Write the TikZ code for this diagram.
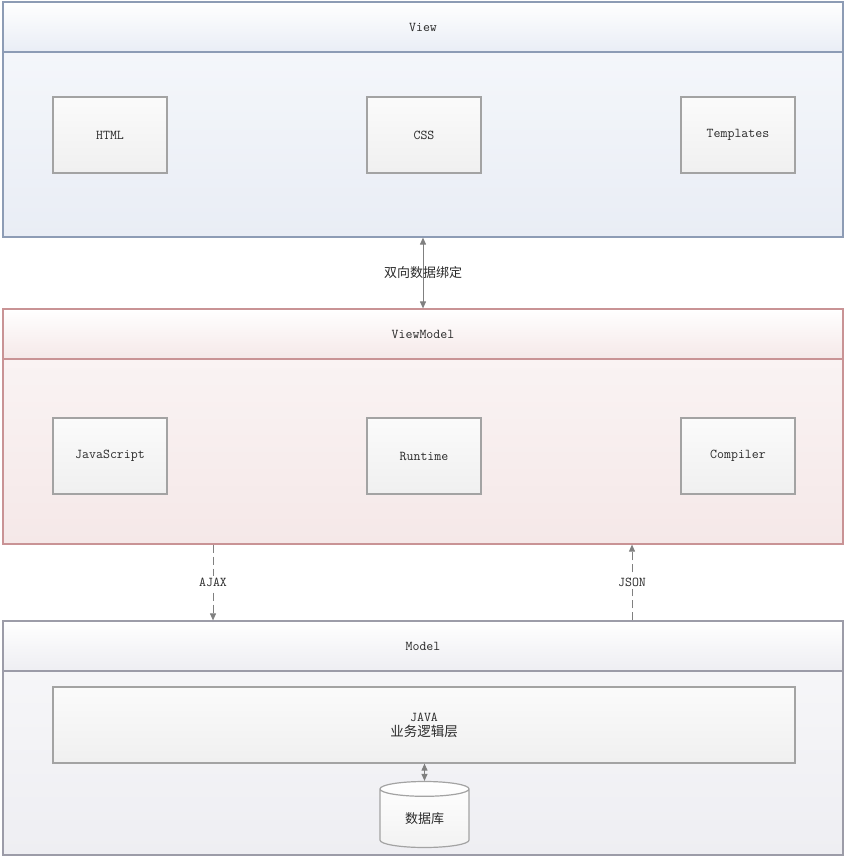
\documentclass[tikz,border=0pt]{standalone}
\usepackage{fontspec}
\newfontfamily\cjk{Noto Sans CJK SC}
\usetikzlibrary{shapes.geometric,arrows.meta}
\definecolor{viewline}{HTML}{8D9CB5}
\definecolor{viewtop}{HTML}{F7F9FC}
\definecolor{viewbot}{HTML}{E9EDF5}
\definecolor{vmline}{HTML}{C99395}
\definecolor{vmtop}{HTML}{FBF6F6}
\definecolor{vmbot}{HTML}{F5E8E8}
\definecolor{mdline}{HTML}{9C9CA8}
\definecolor{mdtop}{HTML}{F8F8FA}
\definecolor{mdbot}{HTML}{EEEEF2}
\definecolor{boxline}{HTML}{A3A3A3}
\definecolor{txt}{HTML}{2A2A2A}
\definecolor{arr}{HTML}{808080}
\tikzset{
  panel/.style={draw=#1line, top color=#1top, bottom color=#1bot, line width=1.2pt,
    minimum width=840pt, minimum height=235pt, inner sep=0pt},
  header/.style={draw=#1line, top color=white, bottom color=#1bot, line width=1.2pt,
    minimum width=840pt, minimum height=50pt, inner sep=0pt, anchor=north,
    font=\ttfamily\fontsize{13.5}{15}\selectfont, text=txt},
  part/.style={draw=boxline, top color=white!60!gray!8, bottom color=gray!12, line width=1.2pt,
    minimum width=114pt, minimum height=76pt, inner sep=0pt,
    font=\ttfamily\fontsize{13.5}{15}\selectfont, text=txt},
  link/.style={draw=arr, line width=1pt, {Triangle[length=7pt,width=6pt]}-{Triangle[length=7pt,width=6pt]}},
  flow/.style={draw=arr, line width=1pt, dash pattern=on 8pt off 4pt, -{Triangle[length=7pt,width=6pt]}},
  tag/.style={fill=white, inner sep=2pt, text=txt, font=\ttfamily\fontsize{13.5}{15}\selectfont},
}
\begin{document}
\begin{tikzpicture}[x=1pt,y=-1pt]
\useasboundingbox (0,0) rectangle (844,859);
% View layer
\node[panel=view] (view) at (423,119.5) {};
\node[header=view] (viewhead) at (view.north) {View};
\node[part] (html) at (110,135) {HTML};
\node[part] (css) at (424,135) {CSS};
\node[part] (tpl) at (738,135) {Templates};
% ViewModel layer
\node[panel=vm] (vm) at (423,426.5) {};
\node[header=vm] (vmhead) at (vm.north) {ViewModel};
\node[part] (js) at (110,456) {JavaScript};
\node[part] (rt) at (424,456) {Runtime};
\node[part] (comp) at (738,456) {Compiler};
% Model layer
\node[panel=md, minimum height=234pt] (md) at (423,738) {};
\node[header=md] (mdhead) at (md.north) {Model};
\node[part, minimum width=742pt, align=center] (java) at (424,725) {JAVA\\[0pt]{\cjk 业务逻辑层}};
\node[cylinder, shape border rotate=90, aspect=0.38, draw=boxline, line width=1.2pt,
  top color=white, bottom color=gray!10, minimum width=89pt, minimum height=66pt,
  inner sep=0pt, text=txt, font=\cjk\fontsize{13}{15}\selectfont] (db) at (424.5,818.5) {数据库};
% links
\draw[link] (view.south) -- (vm.north)
  node[midway, text=txt, font=\cjk\fontsize{13}{15}\selectfont] (bind) {双向数据绑定};
\draw[flow] ([xshift=-210pt]vm.south) -- ([xshift=-210pt]md.north)
  node[midway, tag] (ajax) {AJAX};
\draw[flow] ([xshift=209pt]md.north) -- ([xshift=209pt]vm.south)
  node[midway, tag] (json) {JSON};
\draw[link] (java.south -| db.north) -- (db.north);
\end{tikzpicture}
\end{document}
